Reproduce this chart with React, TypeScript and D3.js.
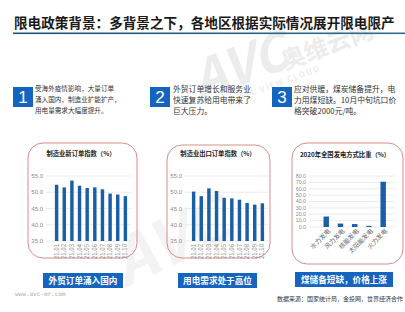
import React from "react";
import * as d3 from "d3";

const months = ["21.01", "21.02", "21.03", "21.04", "21.05", "21.06", "21.07", "21.08", "21.09", "21.10"];
const newOrders = [52.3, 51.5, 53.6, 52.0, 51.3, 51.5, 50.9, 49.6, 49.3, 48.8];
const exportOrders = [50.2, 48.8, 51.2, 50.4, 48.3, 48.1, 47.7, 46.7, 46.2, 46.6];
const orderTicks = [35, 40, 45, 50, 55];

const powerTypes = ["水力发电", "风力发电", "核能发电", "太阳能发电", "火力发电"];
const powerShare = [16.4, 5.4, 4.6, 1.7, 71.0];
const powerTicks = [0, 10, 20, 30, 40, 50, 60, 70, 80];

const title = "限电政策背景：多背景之下，各地区根据实际情况展开限电限产";
const box1 = ["受海外疫情影响，大量订单", "涌入国内，制造业扩能扩产，", "用电量需求大幅度提升。"];
const box2 = ["外贸订单增长和服务业", "快速复苏给用电带来了", "巨大压力。"];
const box3 = ["应对供暖，煤炭储备提升，电", "力用煤短缺。10月中旬坑口价", "格突破2000元/吨。"];
const buttons = ["外贸订单涌入国内", "用电需求处于高位", "煤储备短缺，价格上涨"];
const chartTitles = ["制造业新订单指数（%）", "制造业出口订单指数（%）", "2020年全国发电方式比重（%）"];

const FONT = "'Noto Sans CJK SC', 'Noto Sans', sans-serif";
const NUM = "'Liberation Sans', Arial, sans-serif";
const BLUE = "#1565c0";
const BAR = "#1a5ea8";

const MiniBar = ({ cats, values, ticks, domain, xr, yr, pad, labelX, gridX0, rotate, tickSize }) => {
  const x = d3.scaleBand().domain(cats).range(xr).padding(pad);
  const y = d3.scaleLinear().domain(domain).range(yr);
  return (
    <g>
      {ticks.map((t) => (
        <g key={t}>
          <line x1={gridX0} x2={xr[1]} y1={y(t)} y2={y(t)} stroke="#e3e3e3" strokeWidth={0.7} />
          <text x={labelX} y={y(t)} dy="0.35em" textAnchor="end" fontSize={tickSize} fill="#8a8a8a" fontFamily={NUM}>
            {t.toFixed(1)}
          </text>
        </g>
      ))}
      {cats.map((c, i) => (
        <rect key={c} x={x(c)} y={y(values[i])} width={x.bandwidth()} height={y(domain[0]) - y(values[i])} fill={BAR} />
      ))}
      {cats.map((c) => {
        const cx = x(c) + x.bandwidth() / 2;
        const y0 = y(domain[0]) + 3;
        return rotate === 90 ? (
          <text key={c} transform={`translate(${cx},${y0}) rotate(-90)`} dy="0.35em" textAnchor="end" fontSize={6} fill="#8a8a8a" fontFamily={FONT}>
            {c}
          </text>
        ) : (
          <text key={c} transform={`translate(${cx + 3},${y0}) rotate(-45)`} dy="0.35em" textAnchor="end" fontSize={6.3} fill="#666" fontFamily={FONT}>
            {c}
          </text>
        );
      })}
    </g>
  );
};

const TextBox = ({ n, lines, sx, tx, size }) => (
  <g>
    <rect x={sx} y={87} width={20} height={20} fill={BLUE} />
    <text x={sx + 10} y={97} dy="0.36em" textAnchor="middle" fontSize={17} fill="#fff" fontFamily={NUM}>
      {n}
    </text>
    {lines.map((l, i) => (
      <text key={i} x={tx} y={89 + i * 11} dy="0.35em" fontSize={size} fill="#333" fontFamily={FONT}>
        {l}
      </text>
    ))}
  </g>
);

const Button = ({ label, x0, x1, y0 }) => (
  <g>
    <rect x={x0} y={y0} width={x1 - x0} height={15} fill={BLUE} />
    <text x={(x0 + x1) / 2} y={y0 + 7.5} dy="0.36em" textAnchor="middle" fontSize={8.6} fontWeight="bold" fill="#fff" fontFamily={FONT}>
      {label}
    </text>
  </g>
);

export default function App() {
  return (
    <svg width={405} height={312} style={{ position: "fixed", left: 0, top: 0, background: "#fff" }}>
      <defs>
        <linearGradient id="uline" x1="0" x2="1">
          <stop offset="0" stopColor="#1d4f7a" />
          <stop offset="1" stopColor="#2b6f8c" />
        </linearGradient>
      </defs>
      {/* watermark */}
      <g fill="#ececec" fontFamily={FONT} fontWeight="bold">
        <text transform="translate(200,100) rotate(-20)" fontSize={52} fontStyle="italic">AVC</text>
        <text transform="translate(285,70) rotate(-20)" fontSize={24}>奥维云网</text>
        <text transform="translate(240,100) rotate(-20)" fontSize={8} letterSpacing={1.5}>ALL VIEW CLOUD</text>
        <text transform="translate(125,288) rotate(-25)" fontSize={64} fill="#f3f3f3" fontStyle="italic">AVC</text>
      </g>

      <text x={14} y={23} dy="0.36em" fontSize={13.6} fontWeight="bold" fill="#1a1a1a" fontFamily={FONT}>
        {title}
      </text>
      <rect x={13} y={32.5} width={392} height={1.6} fill="url(#uline)" />

      <TextBox n="1" lines={box1} sx={13} tx={35} size={6.6} />
      <TextBox n="2" lines={box2} sx={150} tx={173} size={7.8} />
      <TextBox n="3" lines={box3} sx={272} tx={294} size={7.8} />

      <rect x={28} y={143} width={109} height={115} rx={15} fill="none" stroke="#d98c8a" strokeWidth={1} />
      <rect x={167} y={145} width={103} height={113} rx={15} fill="none" stroke="#d98c8a" strokeWidth={1} />
      <rect x={292} y={143} width={111} height={121} rx={15} fill="none" stroke="#d98c8a" strokeWidth={1} />

      <text x={81} y={154} dy="0.35em" textAnchor="middle" fontSize={6.3} fontWeight="bold" fill="#222" fontFamily={FONT}>{chartTitles[0]}</text>
      <text x={218} y={154} dy="0.35em" textAnchor="middle" fontSize={6.3} fontWeight="bold" fill="#222" fontFamily={FONT}>{chartTitles[1]}</text>
      <text x={345} y={155} dy="0.35em" textAnchor="middle" fontSize={6.3} fontWeight="bold" fill="#222" fontFamily={FONT}>{chartTitles[2]}</text>

      <MiniBar cats={months} values={newOrders} ticks={orderTicks} domain={[35, 55]} xr={[50.7, 131.3]} yr={[241, 176]} pad={0.55} labelX={43} gridX0={46} rotate={90} tickSize={6} />
      <MiniBar cats={months} values={exportOrders} ticks={orderTicks} domain={[35, 55]} xr={[187.7, 268.3]} yr={[241, 176]} pad={0.55} labelX={182} gridX0={185} rotate={90} tickSize={6} />
      <MiniBar cats={powerTypes} values={powerShare} ticks={powerTicks} domain={[0, 80]} xr={[314.7, 394.7]} yr={[227, 176]} pad={0.62} labelX={306} gridX0={309} rotate={45} tickSize={5.3} />

      <Button label={buttons[0]} x0={43} x1={123} y0={273} />
      <Button label={buttons[1]} x0={178} x1={257} y0={273} />
      <Button label={buttons[2]} x0={295} x1={393} y0={272} />

      <text x={15} y={294} dy="0.35em" fontSize={6} fill="#aaa" fontFamily="'DejaVu Sans Mono', monospace">www.avc-mr.com</text>
      <text x={277} y={299} dy="0.35em" fontSize={6} fill="#333" fontFamily={FONT}>数据来源：国家统计局，金投网，世界经济合作</text>
    </svg>
  );
}
